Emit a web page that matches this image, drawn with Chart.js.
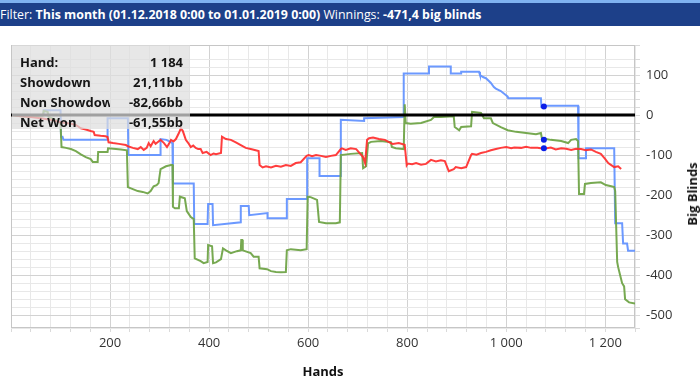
<!DOCTYPE html>
<html>
<head>
<meta charset="utf-8">
<script src="https://cdn.jsdelivr.net/npm/chart.js@4/dist/chart.umd.min.js"></script>
<style>
  html, body { margin: 0; padding: 0; background: #fff; width: 700px; height: 383px; overflow: hidden; font-family: "Open Sans", "Noto Sans", sans-serif; }
  #bar { position: absolute; left: 0; top: 0; width: 700px; height: 26px; background: #1d4089; border-top: 3px solid #7fb2f0; box-sizing: border-box; color: #fff; font-size: 12.4px; line-height: 24px; white-space: nowrap; overflow: hidden; }
  #bar b { font-weight: 700; }
  #wrap { position: absolute; left: 0; top: 25px; width: 700px; height: 358px; }
  #info { position: absolute; left: 12px; top: 45px; width: 178px; height: 84px; background: rgba(222,222,222,0.72); font-size: 13px; font-weight: 700; color: #151515; }
  .row { position: absolute; left: 0; width: 178px; height: 20px; line-height: 20px; }
  .lab { position: absolute; left: 8px; width: 90px; overflow: hidden; white-space: nowrap; }
  .val { position: absolute; right: 7px; text-align: right; white-space: nowrap; }
  #ytitle { position: absolute; left: 692px; top: 194px; transform: translate(-50%, -50%) rotate(-90deg); font-size: 13px; font-weight: 700; color: #111; white-space: nowrap; }
</style>
</head>
<body>
<div id="bar">Filter: <b>This month (01.12.2018 0:00 to 01.01.2019 0:00)</b> Winnings: <b>-471,4 big blinds</b></div>
<div id="wrap"><canvas id="c" width="700" height="358"></canvas></div>
<div id="info"></div>
<div id="ytitle">Big Blinds</div>
<script>
// ---------- data ----------
const infoLabels = ["Hand:", "Showdown", "Non Showdown", "Net Won"];
const infoValues = ["1 184", "21,11bb", "-82,66bb", "-61,55bb"];

const netHands = [0,20,40,60,64,66,74,76,90,100,102,111,121,131,141,151,161,165,175,176,195,196,212,222,234,236,246,256,266,276,282,288,294,298,302,313,323,326,327,331,339,341,351,355,363,369,371,383,389,397,398,406,408,414,424,428,434,444,456,464,465,467,468,484,490,500,502,517,525,535,545,555,557,565,585,597,599,605,618,622,636,646,656,664,666,686,709,711,717,721,727,747,767,769,777,793,795,797,807,828,848,854,868,894,896,905,909,929,931,949,955,969,973,989,1003,1020,1040,1060,1070,1072,1090,1111,1125,1131,1141,1145,1147,1157,1159,1171,1191,1201,1212,1218,1220,1224,1226,1230,1234,1238,1240,1248,1260];
const netValues = [0,-3,-4,-2,-2,10,8,-5,-12,-20,-80,-82,-85,-90,-98,-105,-110,-117,-117,-92,-92,-83,-85,-86,-88,-180,-185,-190,-192,-196,-190,-178,-175,-170,-135,-128,-125,-125,-229,-233,-233,-204,-208,-240,-255,-260,-358,-365,-370,-367,-325,-328,-370,-368,-360,-333,-338,-345,-340,-338,-312,-312,-338,-345,-354,-354,-383,-385,-390,-392,-393,-392,-338,-335,-338,-335,-204,-205,-212,-267,-270,-270,-270,-268,-100,-97,-95,-133,-128,-71,-67,-65,-68,-80,-83,-85,27,-20,-22,-20,-12,-5,-5,-3,-30,-38,-30,-28,8,5,-8,-8,-20,-30,-38,-42,-45,-48,-45,-58,-62,-65,-70,-62,-60,-65,-197,-197,-172,-170,-168,-175,-178,-180,-190,-367,-380,-400,-420,-428,-460,-468,-471];

const sdHands = [0,66,66,100,101,104,106,195,195,236,237,302,302,314,326,327,369,370,397,398,407,408,464,464,480,481,518,518,557,557,598,598,623,623,666,666,713,713,793,793,844,844,888,888,909,909,945,947,953,959,965,969,975,979,989,999,1003,1004,1070,1071,1076,1145,1146,1161,1161,1218,1220,1234,1236,1244,1246,1260];
const sdValues = [0,0,12,12,-54,-54,-62,-62,-8,-8,-100,-100,-60,-62,-70,-171,-171,-272,-272,-222,-222,-275,-268,-227,-227,-250,-245,-258,-258,-210,-210,-108,-108,-152,-152,-12,-15,-8,-5,104,104,121,121,104,104,108,108,100,95,92,85,80,70,66,60,50,46,42,42,21,23,23,-108,-108,-83,-83,-270,-270,-321,-321,-339,-339];

const nsdHands = [0,20,40,60,80,90,100,111,121,131,135,141,151,161,167,169,181,191,195,197,206,218,232,236,246,256,262,268,274,278,282,288,292,296,302,309,315,319,323,328,333,339,343,347,353,358,363,368,373,378,383,387,395,403,409,414,424,426,434,444,454,464,474,484,494,500,502,508,515,525,535,545,555,565,575,585,597,601,608,616,626,636,646,656,666,668,676,686,697,711,715,719,723,731,743,755,767,771,783,795,799,801,810,818,828,838,848,858,868,876,884,894,898,909,919,929,931,940,949,959,969,979,989,1000,1010,1016,1030,1040,1050,1063,1076,1090,1100,1111,1121,1131,1141,1151,1161,1171,1181,1191,1200,1206,1212,1218,1226,1232,1242,1252,1260];
const nsdValues = [0,-3,-5,-8,-12,-15,-18,-20,-22,-25,-28,-33,-36,-40,-42,-50,-52,-53,-55,-68,-70,-72,-75,-78,-82,-85,-80,-87,-82,-70,-78,-65,-72,-68,-62,-70,-80,-72,-62,-66,-60,-45,-33,-40,-62,-70,-80,-76,-82,-85,-85,-95,-92,-100,-96,-98,-95,-54,-60,-62,-68,-75,-82,-85,-88,-90,-125,-131,-128,-131,-127,-129,-125,-127,-120,-118,-102,-100,-103,-100,-102,-105,-102,-100,-85,-83,-87,-83,-85,-105,-120,-62,-58,-56,-60,-62,-70,-72,-70,-74,-125,-121,-123,-120,-124,-122,-112,-116,-113,-115,-140,-135,-130,-133,-130,-100,-97,-99,-95,-92,-88,-85,-82,-80,-83,-81,-82,-79,-82,-82,-84,-81,-86,-83,-84,-87,-84,-85,-88,-86,-92,-97,-110,-120,-125,-130,-128,-135];

const hoverHand = 1076;
const hoverValues = [21.11, -61.55, -82.66];

const xMin = 0, xMax = 1260, xStep = 40, xLabelEvery = 200;
const yMin = -532, yMax = 175, yStep = 20, yLabelEvery = 100;

// ---------- info box ----------
const info = document.getElementById('info');
infoLabels.forEach((l, i) => {
  const r = document.createElement('div');
  r.className = 'row';
  r.style.top = (7 + i * 20) + 'px';
  r.innerHTML = '<span class="lab"></span><span class="val"></span>';
  r.children[0].textContent = l;
  r.children[1].textContent = infoValues[i];
  info.appendChild(r);
});

function pts(xs, ys) { return xs.map((x, i) => ({x: x, y: ys[i]})); }
function fmt(v) { return String(v).replace(/\B(?=(\d{3})+(?!\d))/g, '\u00a0'); }

const frame = {
  id: 'frame',
  afterDatasetsDraw(chart) {
    const {ctx, chartArea: a, scales: {y}} = chart;
    ctx.save();
    const y0 = Math.round(y.getPixelForValue(0));
    ctx.strokeStyle = '#000';
    ctx.lineWidth = 3;
    ctx.beginPath();
    ctx.moveTo(a.left, y0);
    ctx.lineTo(a.right, y0);
    ctx.stroke();
    ctx.restore();
  },
  beforeDatasetsDraw(chart) {
    const {ctx, chartArea: a} = chart;
    ctx.save();
    ctx.strokeStyle = '#c6c6c6';
    ctx.lineWidth = 1;
    ctx.strokeRect(a.left + 0.5, a.top + 0.5, a.right - a.left - 1, a.bottom - a.top - 1);
    ctx.restore();
  }
};

new Chart(document.getElementById('c'), {
  type: 'line',
  data: {
    datasets: [
      { label: 'hover', data: [{x: hoverHand, y: hoverValues[0]}, {x: hoverHand, y: hoverValues[1]}, {x: hoverHand, y: hoverValues[2]}], showLine: false, pointRadius: 3, pointBackgroundColor: '#0a1ee8', pointBorderWidth: 0, borderColor: '#0a1ee8' },
      { label: 'Non Showdown', data: pts(nsdHands, nsdValues), borderColor: 'rgba(255,45,45,0.92)', borderWidth: 2, pointRadius: 0, tension: 0 },
      { label: 'Net Won', data: pts(netHands, netValues), borderColor: 'rgba(112,164,72,0.95)', borderWidth: 2, pointRadius: 0, tension: 0 },
      { label: 'Showdown', data: pts(sdHands, sdValues), borderColor: 'rgba(100,148,255,0.95)', borderWidth: 2, pointRadius: 0, tension: 0 }
    ]
  },
  options: {
    responsive: false,
    animation: false,
    layout: { padding: { left: 11, top: 20, right: 0, bottom: 0 } },
    plugins: { legend: { display: false }, tooltip: { enabled: false } },
    scales: {
      x: {
        type: 'linear', min: xMin, max: xMax,
        grid: {
          color: c => (c.tick && c.tick.value % xLabelEvery === 0) ? '#d2d2d2' : '#e8e8e8',
          tickColor: '#dadada', tickLength: 4, drawTicks: true
        },
        border: { display: false },
        ticks: {
          stepSize: xStep, autoSkip: false, maxRotation: 0, padding: 3,
          color: '#333', font: { family: '"Open Sans"', size: 13 },
          callback: v => (v > 0 && v % xLabelEvery === 0) ? fmt(v) : ''
        },
        title: { display: true, text: 'Hands', color: '#111', font: { family: '"Open Sans"', size: 13, weight: 'bold' }, padding: { top: 0, bottom: 3 } },
        afterFit: s => { s.height = 55; }
      },
      y: {
        position: 'right', min: yMin, max: yMax,
        grid: {
          color: c => (c.tick && c.tick.value % yLabelEvery === 0) ? '#d2d2d2' : '#e8e8e8',
          tickColor: '#dadada', tickLength: 5
        },
        border: { display: false },
        ticks: {
          stepSize: yStep, autoSkip: false, padding: 6,
          color: '#333', font: { family: '"Open Sans"', size: 13 },
          callback: v => (v % yLabelEvery === 0) ? String(v) : ''
        },
        afterFit: s => { s.width = 65; }
      }
    }
  },
  plugins: [frame]
});
</script>
</body>
</html>
